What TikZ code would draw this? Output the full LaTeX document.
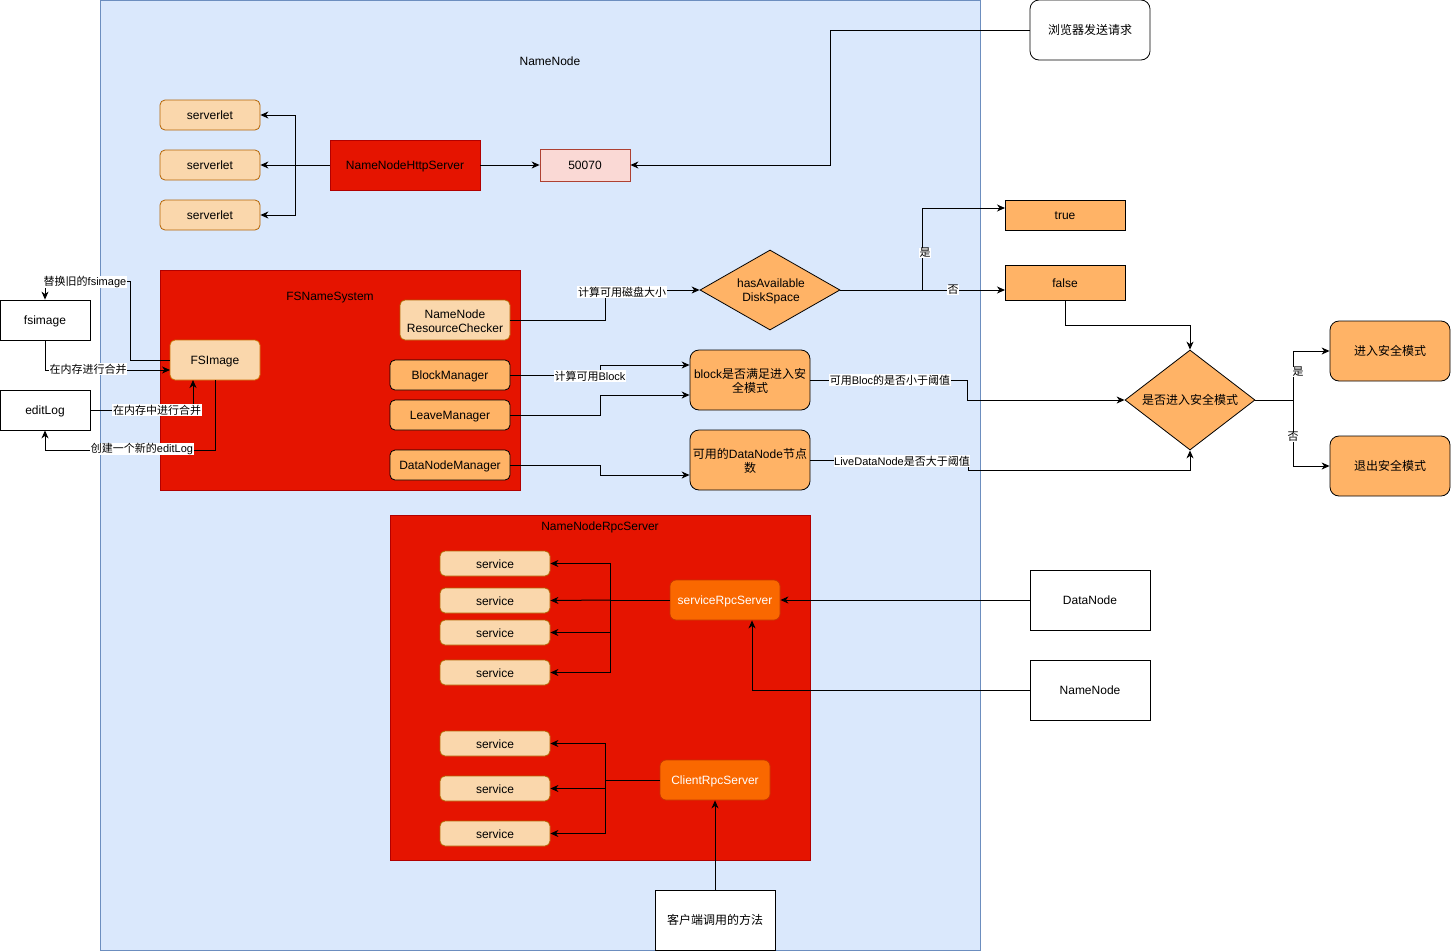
\documentclass[tikz,border=0pt]{standalone}
\usepackage{fontspec}
\setmainfont{Liberation Sans}
\newfontfamily\cjk{Noto Sans CJK SC}
\newcommand\zhs[1]{{\cjk #1}}
\newcommand\txtprop{\rule[-2.6pt]{0pt}{14.3pt}}
\usetikzlibrary{arrows.meta,shapes.geometric}
\definecolor{bluefill}{HTML}{DAE8FC}
\definecolor{bluedraw}{HTML}{6C8EBF}
\definecolor{redfill}{HTML}{E51400}
\definecolor{reddraw}{HTML}{B20000}
\definecolor{peach}{HTML}{FAD7AC}
\definecolor{peachdraw}{HTML}{B46504}
\definecolor{orangefill}{HTML}{FFB366}
\definecolor{pinkfill}{HTML}{FAD9D5}
\definecolor{pinkdraw}{HTML}{AE4132}
\definecolor{hotorange}{HTML}{FA6800}
\definecolor{hotdraw}{HTML}{C73500}
\begin{document}
\begin{tikzpicture}[x=1pt,y=-1pt,
  font=\fontsize{12}{14}\selectfont,
  every node/.style={inner sep=0pt, align=center},
  container/.style={draw=bluedraw, fill=bluefill, line width=0.8pt},
  redbox/.style={draw=reddraw, fill=redfill, line width=0.8pt},
  peachbox/.style={draw=peachdraw, fill=peach, rounded corners=5pt, line width=0.8pt},
  orangebox/.style={draw=black, fill=orangefill, rounded corners=5pt, line width=0.8pt},
  bigorange/.style={draw=black, fill=orangefill, rounded corners=9pt, line width=0.8pt},
  plainbox/.style={draw=black, fill=white, line width=0.8pt},
  roundwhite/.style={draw=black, fill=white, rounded corners=9pt, line width=0.8pt},
  hotbox/.style={draw=hotdraw, fill=hotorange, text=white, rounded corners=6pt, line width=0.8pt},
  decision/.style={diamond, aspect=1, draw=black, fill=orangefill, line width=0.8pt},
  wire/.style={draw=black, line width=1pt},
  arr/.style={wire, -{Stealth[length=8pt,width=7pt,inset=2.5pt]}},
  lbl/.style={fill=white, inner sep=0.6pt, font=\fontsize{11}{13}\selectfont},
]
\useasboundingbox (0,0) rectangle (1451,951);

% ---------- NameNode container ----------
\node[container, minimum width=880pt, minimum height=950pt] (nn) at (540,475) {};
\node (nntitle) at (550,61) {\txtprop NameNode};

% ---------- HTTP server part ----------
\node[roundwhite, minimum width=120pt, minimum height=60pt] (browser) at (1090,30) {\txtprop\zhs{浏览器发送请求}};
\node[peachbox, minimum width=100pt, minimum height=30pt] (sv1) at (210,115) {\txtprop serverlet};
\node[peachbox, minimum width=100pt, minimum height=30pt] (sv2) at (210,165) {\txtprop serverlet};
\node[peachbox, minimum width=100pt, minimum height=30pt] (sv3) at (210,215) {\txtprop serverlet};
\node[redbox, minimum width=150pt, minimum height=50pt] (http) at (405,165) {\txtprop NameNodeHttpServer};
\node[draw=pinkdraw, fill=pinkfill, line width=0.8pt, minimum width=90pt, minimum height=32pt] (port) at (585,165) {\txtprop 50070};

\draw[arr] (browser.west) -- (830,30) -- (830,165) -- (port.east);
\draw[arr] (http.east) -- (port.west);
\draw[wire] (http.west) -- (295,165);
\draw[arr] (295,165) -- (sv2.east);
\draw[arr] (295,165) -- (295,115) -- (sv1.east);
\draw[arr] (295,165) -- (295,215) -- (sv3.east);

% ---------- FSNameSystem ----------
\node[redbox, minimum width=360pt, minimum height=220pt] (fsn) at (340,380) {};
\node (fsntitle) at (330,296) {\txtprop FSNameSystem};
\node[peachbox, draw=peachdraw!70!orange, minimum width=90pt, minimum height=40pt] (fsimg) at (215,360) {\txtprop FSImage};
\node[peachbox, minimum width=110pt, minimum height=40pt] (rc) at (455,320) {};
\node (rctext) at (455,321) {NameNode\\ResourceChecker};
\node[orangebox, minimum width=120pt, minimum height=30pt] (bm) at (450,375) {\txtprop BlockManager};
\node[orangebox, minimum width=120pt, minimum height=30pt] (lm) at (450,415) {\txtprop LeaveManager};
\node[orangebox, minimum width=120pt, minimum height=30pt] (dm) at (450,465) {\txtprop DataNodeManager};

\node[plainbox, minimum width=90pt, minimum height=40pt] (fsimage) at (45,320) {\txtprop fsimage};
\node[plainbox, minimum width=90pt, minimum height=40pt] (editlog) at (45,410) {\txtprop editLog};

\draw[arr] (fsimg.west) -- (130,360) -- (130,281) -- (45,281) -- (fsimage.north);
\node[lbl] (l1) at (85,282) {\zhs{替换旧的}fsimage};
\draw[arr] (fsimage.south) -- (45,370) -- (170,370);
\node[lbl] (l2) at (88,369) {\zhs{在内存进行合并}};
\draw[arr] (editlog.east) -- (193,410) -- (193,380);
\node[lbl] (l3) at (157,410) {\zhs{在内存中进行合并}};
\draw[arr] (215,380) -- (215,450) -- (45,450) -- (editlog.south);
\node[lbl] (l4) at (142,449) {\zhs{创建一个新的}editLog};

% ---------- disk space decision ----------
\node[decision, minimum width=140pt, minimum height=80pt, aspect=1.75] (disk) at (770,290) {};
\node (disktext) at (771,291) {hasAvailable\\DiskSpace};
\node[orangebox, rounded corners=0pt, minimum width=120pt, minimum height=30pt] (true) at (1065,215) {\txtprop true};
\node[orangebox, rounded corners=0pt, minimum width=120pt, minimum height=35pt] (false) at (1065,282.5) {\txtprop false};

\draw[arr] (rc.east) -- (605,320) -- (605,290) -- (disk.west);
\node[lbl] (l5) at (622,292) {\zhs{计算可用磁盘大小}};
\draw[wire] (disk.east) -- (922,290);
\draw[arr] (922,290) -- (922,208) -- (1005,208);
\draw[arr] (922,290) -- (1005,290);
\node[lbl] (l6) at (925,253) {\zhs{是}};
\node[lbl] (l7) at (953,290) {\zhs{否}};

% ---------- safe mode checks ----------
\node[bigorange, minimum width=120pt, minimum height=60pt] (blk) at (750,380) {};
\node (blktext) at (750,381) {block\zhs{是否满足进入安}\\\zhs{全模式}};
\node[bigorange, minimum width=120pt, minimum height=60pt] (live) at (750,460) {};
\node (livetext) at (750,461) {\zhs{可用的}DataNode\zhs{节点}\\\zhs{数}};

\draw[arr] (bm.east) -- (600,375) -- (600,365) -- (blk.west |- 0,365);
\node[lbl] (l8) at (590,376) {\zhs{计算可用}Block};
\draw[arr] (lm.east) -- (600,415) -- (600,395) -- (blk.west |- 0,395);
\draw[arr] (dm.east) -- (600,465) -- (600,475) -- (live.west |- 0,475);

\node[decision, minimum width=130pt, minimum height=100pt, aspect=1.3] (safe) at (1190,400) {\txtprop\zhs{是否进入安全模式}};
\node[bigorange, minimum width=120pt, minimum height=60pt] (enter) at (1390,351) {\txtprop\zhs{进入安全模式}};
\node[bigorange, minimum width=120pt, minimum height=60pt] (leave) at (1390,466) {\txtprop\zhs{退出安全模式}};

\draw[arr] (false.south) -- (1065,325) -- (1190,325) -- (safe.north);
\draw[arr] (blk.east) -- (967,380) -- (967,400) -- (safe.west);
\node[lbl] (l9) at (890,380) {\zhs{可用}Bloc\zhs{的是否小于阈值}};
\draw[arr] (live.east) -- (968,460) -- (968,470) -- (1190,470) -- (safe.south);
\node[lbl] (l10) at (902,461) {LiveDataNode\zhs{是否大于阈值}};
\draw[wire] (safe.east) -- (1293,400);
\draw[arr] (1293,400) -- (1293,351) -- (enter.west);
\draw[arr] (1293,400) -- (1293,466) -- (leave.west);
\node[lbl] (l11) at (1298,372) {\zhs{是}};
\node[lbl] (l12) at (1293,437) {\zhs{否}};

% ---------- RPC server ----------
\node[redbox, minimum width=420pt, minimum height=345pt] (rpc) at (600,687.5) {};
\node (rpctitle) at (600,526) {\txtprop NameNodeRpcServer};
\foreach \n/\y in {a/563.5,b/600.5,c/632.5,d/672.5,e/743.5,f/788.5,g/833.5}
  \node[peachbox, minimum width=110pt, minimum height=25pt] (srv\n) at (495,\y) {\txtprop service};
\node[hotbox, minimum width=110pt, minimum height=40pt] (srpc) at (725,600) {\txtprop serviceRpcServer};
\node[hotbox, minimum width=110pt, minimum height=40pt] (crpc) at (715,780) {\txtprop ClientRpcServer};

\draw[wire] (srpc.west) -- (610,600);
\draw[arr] (610,600) -- (srvb.east);
\draw[arr] (610,600) -- (610,563.5) -- (srva.east);
\draw[arr] (610,600) -- (610,632.5) -- (srvc.east);
\draw[arr] (610,600) -- (610,672.5) -- (srvd.east);

\draw[wire] (crpc.west) -- (605,780);
\draw[arr] (605,780) -- (605,743.5) -- (srve.east);
\draw[arr] (605,780) -- (605,788.5) -- (srvf.east);
\draw[arr] (605,780) -- (605,833.5) -- (srvg.east);

\node[plainbox, minimum width=120pt, minimum height=60pt] (dn) at (1090,600) {\txtprop DataNode};
\node[plainbox, minimum width=120pt, minimum height=60pt] (nn2) at (1090,690) {\txtprop NameNode};
\node[plainbox, minimum width=120pt, minimum height=60pt] (client) at (715,920) {\txtprop\zhs{客户端调用的方法}};

\draw[arr] (dn.west) -- (srpc.east);
\draw[arr] (nn2.west) -- (752,690) -- (srpc.south -| 752,0);
\draw[arr] (client.north) -- (crpc.south);
\end{tikzpicture}
\end{document}
